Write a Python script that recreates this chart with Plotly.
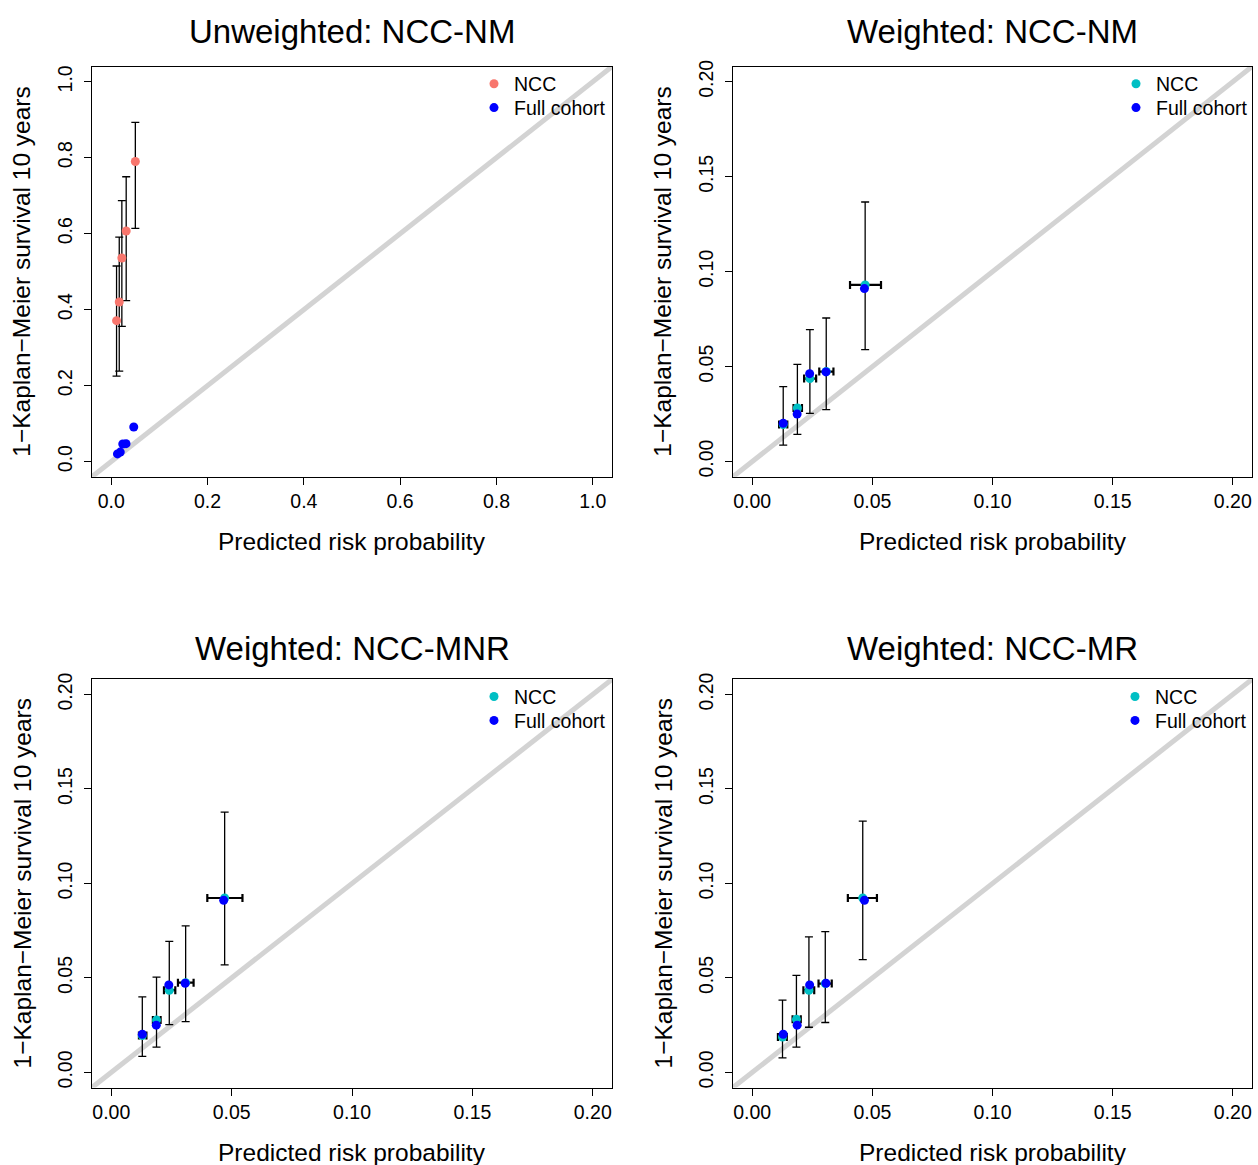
import plotly.graph_objects as go

# ---------------- data ----------------
# Full cohort (same in all panels)
fc_x = [0.0129, 0.0187, 0.0239, 0.0307, 0.0467]
fc_y = [0.0202, 0.0250, 0.0463, 0.0472, 0.0911]

# Panel 1: Unweighted NCC-NM
p1_x = [0.011, 0.0166, 0.022, 0.031, 0.050]
p1_y = [0.371, 0.420, 0.536, 0.607, 0.790]
p1_ylo = [0.225, 0.238, 0.356, 0.424, 0.614]
p1_yhi = [0.515, 0.591, 0.687, 0.750, 0.893]

# Panel 2: Weighted NCC-NM
p2_x = [0.0129, 0.0188, 0.0240, 0.0308, 0.0470]
p2_y = [0.0195, 0.0282, 0.0437, 0.0474, 0.0930]
p2_ylo = [0.0087, 0.0143, 0.0254, 0.0273, 0.0590]
p2_yhi = [0.0395, 0.0512, 0.0695, 0.0756, 0.1367]
p2_xlo = [0.0112, 0.0172, 0.0216, 0.0279, 0.0407]
p2_xhi = [0.0146, 0.0207, 0.0266, 0.0338, 0.0536]

# Panel 3: Weighted NCC-MNR
p3_x = [0.0129, 0.0188, 0.0241, 0.0309, 0.0471]
p3_y = [0.0195, 0.0277, 0.0435, 0.0475, 0.0923]
p3_ylo = [0.0085, 0.0134, 0.0253, 0.0269, 0.0569]
p3_yhi = [0.0400, 0.0504, 0.0693, 0.0775, 0.1377]
p3_xlo = [0.0115, 0.0173, 0.0219, 0.0277, 0.0399]
p3_xhi = [0.0146, 0.0205, 0.0266, 0.0342, 0.0545]

# Panel 4: Weighted NCC-MR
p4_x = [0.0126, 0.0184, 0.0236, 0.0304, 0.0460]
p4_y = [0.0187, 0.0281, 0.0435, 0.0470, 0.0923]
p4_ylo = [0.0077, 0.0134, 0.0239, 0.0264, 0.0597]
p4_yhi = [0.0382, 0.0513, 0.0717, 0.0745, 0.1330]
p4_xlo = [0.0107, 0.0168, 0.0213, 0.0276, 0.0398]
p4_xhi = [0.0144, 0.0202, 0.0258, 0.0331, 0.0519]

titles = ["Unweighted: NCC-NM", "Weighted: NCC-NM", "Weighted: NCC-MNR", "Weighted: NCC-MR"]
x_label = "Predicted risk probability"
y_label = "1\u2212Kaplan\u2212Meier survival 10 years"
legend_labels = ["NCC", "Full cohort"]

# ---------------- layout geometry ----------------
W, H = 1258, 1165
FONT = "Liberation Sans, Arial, Helvetica, sans-serif"
boxes = [  # (left, right, top, bottom) in px
    (92, 612, 60, 473),
    (733, 1252, 60, 473),
    (92, 612, 677, 1088),
    (733, 1252, 677, 1088),
]
title_offset = [35, 35, 31, 31]
legend_marker_x = [494, 1136, 494, 1135]

fig = go.Figure()

panels = [
    dict(x=p1_x, y=p1_y, ylo=p1_ylo, yhi=p1_yhi, xlo=None, xhi=None, col="#F8766D",
         rng=[-0.04, 1.04], dtick=0.2, fmt=".1f"),
    dict(x=p2_x, y=p2_y, ylo=p2_ylo, yhi=p2_yhi, xlo=p2_xlo, xhi=p2_xhi, col="#00BFC4",
         rng=[-0.008, 0.208], dtick=0.05, fmt=".2f"),
    dict(x=p3_x, y=p3_y, ylo=p3_ylo, yhi=p3_yhi, xlo=p3_xlo, xhi=p3_xhi, col="#00BFC4",
         rng=[-0.008, 0.208], dtick=0.05, fmt=".2f"),
    dict(x=p4_x, y=p4_y, ylo=p4_ylo, yhi=p4_yhi, xlo=p4_xlo, xhi=p4_xhi, col="#00BFC4",
         rng=[-0.008, 0.208], dtick=0.05, fmt=".2f"),
]

annotations = []
layout_axes = {}
legends = {}

for i, p in enumerate(panels):
    k = "" if i == 0 else str(i + 1)
    xa, ya = "x" + k, "y" + k
    lg_a = "legend" + ("" if i == 0 else str(2 * i + 1))
    lg_b = "legend" + str(2 * i + 2)
    l, r, t, b = boxes[i]

    # diagonal reference line
    fig.add_trace(go.Scatter(x=[-1, 2], y=[-1, 2], mode="lines",
                             line=dict(color="#D3D3D3", width=5),
                             xaxis=xa, yaxis=ya, showlegend=False, hoverinfo="skip"))

    err_y = dict(type="data", symmetric=False,
                 array=[hi - v for hi, v in zip(p["yhi"], p["y"])],
                 arrayminus=[v - lo for lo, v in zip(p["ylo"], p["y"])],
                 color="black", thickness=1.3, width=4)
    err_x = None
    if p["xlo"] is not None:
        err_x = dict(type="data", symmetric=False,
                     array=[hi - v for hi, v in zip(p["xhi"], p["x"])],
                     arrayminus=[v - lo for lo, v in zip(p["xlo"], p["x"])],
                     color="black", thickness=2.2, width=4)

    fig.add_trace(go.Scatter(x=p["x"], y=p["y"], mode="markers",
                             marker=dict(color=p["col"], size=9),
                             error_y=err_y, error_x=err_x,
                             name=legend_labels[0], legend=lg_a,
                             xaxis=xa, yaxis=ya))
    fig.add_trace(go.Scatter(x=fc_x, y=fc_y, mode="markers",
                             marker=dict(color="#0000FF", size=9),
                             name=legend_labels[1], legend=lg_b,
                             xaxis=xa, yaxis=ya))

    axis_common = dict(range=p["rng"], dtick=p["dtick"], tick0=0, tickformat=p["fmt"],
                       showline=True, linecolor="black", linewidth=1, mirror=True,
                       ticks="outside", ticklen=7, tickcolor="black", tickwidth=1,
                       showgrid=False, zeroline=False,
                       tickfont=dict(family=FONT, size=19.5, color="black"))
    layout_axes["xaxis" + k] = dict(axis_common, domain=[l / W, r / W], anchor=ya)
    layout_axes["yaxis" + k] = dict(axis_common, domain=[1 - b / H, 1 - t / H], anchor=xa,
                                    tickangle=-90, ticklabelstandoff=4)

    cx = (l + r) / 2
    cy = (t + b) / 2
    annotations.append(dict(text=titles[i], x=cx / W, y=1 - (t - title_offset[i]) / H,
                            xref="paper", yref="paper",
                            showarrow=False, xanchor="center", yanchor="middle",
                            font=dict(family=FONT, size=33, color="black")))
    annotations.append(dict(text=x_label, x=cx / W, y=1 - (b + 65) / H, xref="paper", yref="paper",
                            showarrow=False, xanchor="center", yanchor="middle",
                            font=dict(family=FONT, size=24.5, color="black")))
    annotations.append(dict(text=y_label, x=(l - 70) / W, y=1 - cy / H, xref="paper", yref="paper",
                            showarrow=False, xanchor="center", yanchor="middle", textangle=-90,
                            font=dict(family=FONT, size=24.5, color="black")))
    for j, lg in enumerate([lg_a, lg_b]):
        row_y = t + 24 + 24 * j
        legends[lg] = dict(x=(legend_marker_x[i] - 20) / W, y=1 - (row_y - 26) / H,
                           xanchor="left", yanchor="top",
                           bgcolor="rgba(0,0,0,0)", borderwidth=0, itemwidth=30,
                           font=dict(family=FONT, size=19.5, color="black"))

fig.update_layout(width=W, height=H, margin=dict(l=0, r=0, t=0, b=0),
                  plot_bgcolor="white", paper_bgcolor="white",
                  annotations=annotations, showlegend=True,
                  **layout_axes, **legends)

fig.write_html("out.html", config={"displayModeBar": False},
               post_script="document.body.style.margin='0px';")
